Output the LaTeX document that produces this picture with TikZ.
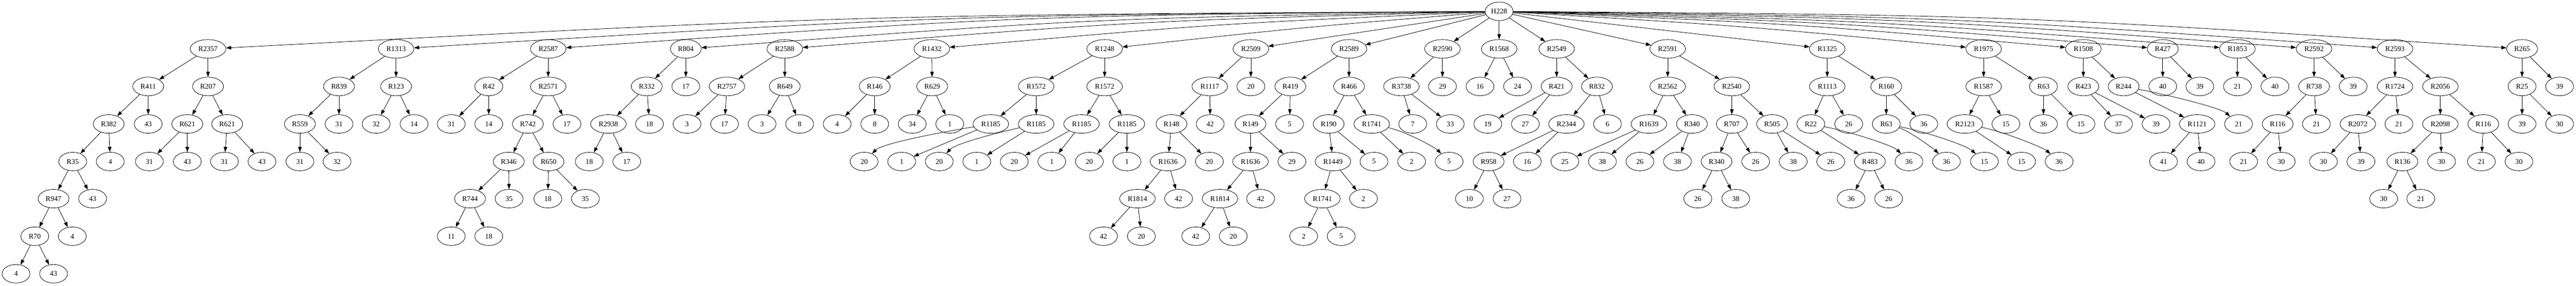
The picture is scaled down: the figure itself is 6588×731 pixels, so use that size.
\documentclass[tikz,border=0pt]{standalone}
\usepackage{fontspec}
\setmainfont{Liberation Serif}
\usetikzlibrary{shapes.geometric,arrows.meta}
\tikzset{
  nd/.style={ellipse,draw,line width=0.8pt,inner sep=0pt,minimum height=35.6pt,minimum width=53.5pt,font=\fontsize{13.9}{16}\selectfont},
  wa/.style={nd,minimum width=59.3pt},
  wb/.style={nd,minimum width=68.3pt},
  ed/.style={-{Triangle[length=9.9pt,width=6.9pt]},line width=0.8pt}
}
\begin{document}
\begin{tikzpicture}[x=0.75pt,y=-0.75pt]
\useasboundingbox (0,0) rectangle (6588,731);
\node[nd] (r) at (3834,29) {H228};
% A
\node[wb] (A0) at (532,125) {R2357};
\node[wa] (A1) at (379,221) {R411};
\node[wa] (A2) at (532,221) {R207};
\node[wa] (A3) at (278,317) {R382};
\node[nd] (A4) at (379,317) {43};
\node[wa] (A5) at (479,317) {R621};
\node[wa] (A6) at (581,317) {R621};
\node[nd] (A7) at (186,413) {R35};
\node[nd] (A8) at (282,413) {4};
\node[nd] (A9) at (382,413) {31};
\node[nd] (A10) at (479,413) {43};
\node[nd] (A11) at (574,413) {31};
\node[nd] (A12) at (670,413) {43};
\node[wa] (A13) at (137,508) {R947};
\node[nd] (A14) at (237,508) {43};
\node[nd] (A15) at (89,604) {R70};
\node[nd] (A16) at (185,604) {4};
\node[nd] (A17) at (41,700) {4};
\node[nd] (A18) at (137,700) {43};
% B
\node[wb] (B0) at (1013,125) {R1313};
\node[wa] (B1) at (867,221) {R839};
\node[wa] (B2) at (1013,221) {R123};
\node[wa] (B3) at (767,317) {R559};
\node[nd] (B4) at (867,317) {31};
\node[nd] (B5) at (962,317) {32};
\node[nd] (B6) at (1059,317) {14};
\node[nd] (B7) at (767,413) {31};
\node[nd] (B8) at (862,413) {32};
% C
\node[wb] (C0) at (1402,125) {R2587};
\node[nd] (C1) at (1250,221) {R42};
\node[wb] (C2) at (1402,221) {R2571};
\node[nd] (C3) at (1154,317) {31};
\node[nd] (C4) at (1250,317) {14};
\node[wa] (C5) at (1350,317) {R742};
\node[nd] (C6) at (1450,317) {17};
\node[wa] (C7) at (1301,413) {R346};
\node[wa] (C8) at (1403,413) {R650};
\node[wa] (C9) at (1202,508) {R744};
\node[nd] (C10) at (1302,508) {35};
\node[nd] (C11) at (1401,508) {18};
\node[nd] (C12) at (1497,508) {35};
\node[nd] (C13) at (1154,604) {11};
\node[nd] (C14) at (1250,604) {18};
% D
\node[wa] (D0) at (1754,125) {R804};
\node[wa] (D1) at (1654,221) {R332};
\node[nd] (D2) at (1754,221) {17};
\node[wb] (D3) at (1556,317) {R2938};
\node[nd] (D4) at (1661,317) {18};
\node[nd] (D5) at (1507,413) {18};
\node[nd] (D6) at (1603,413) {17};
% E
\node[wb] (E0) at (2007,125) {R2588};
\node[wb] (E1) at (1859,221) {R2757};
\node[wa] (E2) at (2007,221) {R649};
\node[nd] (E3) at (1757,317) {3};
\node[nd] (E4) at (1853,317) {17};
\node[nd] (E5) at (1949,317) {3};
\node[nd] (E6) at (2045,317) {8};
% F
\node[wb] (F0) at (2383,125) {R1432};
\node[wa] (F1) at (2237,221) {R146};
\node[wa] (F2) at (2384,221) {R629};
\node[nd] (F3) at (2141,317) {4};
\node[nd] (F4) at (2237,317) {8};
\node[nd] (F5) at (2333,317) {34};
\node[nd] (F6) at (2429,317) {1};
% G
\node[wb] (G0) at (2825,125) {R1248};
\node[wb] (G1) at (2650,221) {R1572};
\node[wb] (G2) at (2825,221) {R1572};
\node[wb] (G3) at (2534,317) {R1185};
\node[wb] (G4) at (2650,317) {R1185};
\node[wb] (G5) at (2766,317) {R1185};
\node[wb] (G6) at (2882,317) {R1185};
\node[nd] (G7) at (2210,413) {20};
\node[nd] (G8) at (2306,413) {1};
\node[nd] (G9) at (2402,413) {20};
\node[nd] (G10) at (2498,413) {1};
\node[nd] (G11) at (2594,413) {20};
\node[nd] (G12) at (2690,413) {1};
\node[nd] (G13) at (2786,413) {20};
\node[nd] (G14) at (2882,413) {1};
% H
\node[wb] (H0) at (3199,125) {R2509};
\node[wb] (H1) at (3094,221) {R1117};
\node[nd] (H2) at (3199,221) {20};
\node[wa] (H3) at (2996,317) {R148};
\node[nd] (H4) at (3095,317) {42};
\node[wb] (H5) at (2987,413) {R1636};
\node[nd] (H6) at (3093,413) {20};
\node[wb] (H7) at (2909,508) {R1814};
\node[nd] (H8) at (3014,508) {42};
\node[nd] (H9) at (2822,604) {42};
\node[nd] (H10) at (2919,604) {20};
% I
\node[wb] (I0) at (3450,125) {R2589};
\node[wa] (I1) at (3300,221) {R419};
\node[wa] (I2) at (3450,221) {R466};
\node[wa] (I3) at (3198,317) {R149};
\node[nd] (I4) at (3298,317) {5};
\node[wb] (I5) at (3198,413) {R1636};
\node[nd] (I6) at (3304,413) {29};
\node[wb] (I7) at (3120,508) {R1814};
\node[nd] (I8) at (3224,508) {42};
\node[nd] (I9) at (3058,604) {42};
\node[nd] (I10) at (3154,604) {20};
\node[wa] (I11) at (3398,317) {R190};
\node[wb] (I12) at (3508,317) {R1741};
\node[wb] (I13) at (3409,413) {R1449};
\node[nd] (I14) at (3514,413) {5};
\node[wb] (I15) at (3382,508) {R1741};
\node[nd] (I16) at (3487,508) {2};
\node[nd] (I17) at (3334,604) {2};
\node[nd] (I18) at (3430,604) {5};
\node[nd] (I19) at (3610,413) {2};
\node[nd] (I20) at (3706,413) {5};
% J
\node[wb] (J0) at (3689,125) {R2590};
\node[wb] (J1) at (3584,221) {R3738};
\node[nd] (J2) at (3689,221) {29};
\node[nd] (J3) at (3613,317) {7};
\node[nd] (J4) at (3709,317) {33};
% K
\node[wb] (K0) at (3834,125) {R1568};
\node[nd] (K1) at (3785,221) {16};
\node[nd] (K2) at (3881,221) {24};
% Q
\node[wb] (Q0) at (3981,125) {R2549};
\node[wa] (Q1) at (3981,221) {R421};
\node[wa] (Q2) at (4084,221) {R832};
\node[nd] (Q3) at (3805,317) {19};
\node[nd] (Q4) at (3901,317) {27};
\node[wb] (Q5) at (4006,317) {R2344};
\node[nd] (Q6) at (4111,317) {6};
\node[wa] (Q7) at (3807,413) {R958};
\node[nd] (Q8) at (3906,413) {16};
\node[nd] (Q9) at (3758,508) {10};
\node[nd] (Q10) at (3854,508) {27};
% M
\node[wb] (M0) at (4265,125) {R2591};
\node[wb] (M1) at (4265,221) {R2562};
\node[wb] (M2) at (4429,221) {R2540};
\node[wb] (M3) at (4217,317) {R1639};
\node[wa] (M4) at (4327,317) {R340};
\node[nd] (M5) at (4002,413) {25};
\node[nd] (M6) at (4098,413) {38};
\node[nd] (M7) at (4194,413) {26};
\node[nd] (M8) at (4290,413) {38};
\node[wa] (M9) at (4429,317) {R707};
\node[wa] (M10) at (4532,317) {R505};
\node[wa] (M11) at (4390,413) {R340};
\node[nd] (M12) at (4490,413) {26};
\node[nd] (M13) at (4342,508) {26};
\node[nd] (M14) at (4439,508) {38};
\node[nd] (M15) at (4586,413) {38};
\node[nd] (M16) at (4682,413) {26};
% N
\node[wb] (N0) at (4673,125) {R1325};
\node[wb] (N1) at (4673,221) {R1113};
\node[wa] (N2) at (4824,221) {R160};
\node[nd] (N3) at (4631,317) {R22};
\node[nd] (N4) at (4728,317) {26};
\node[wa] (N5) at (4782,413) {R483};
\node[nd] (N6) at (4882,413) {36};
\node[nd] (N7) at (4734,508) {36};
\node[nd] (N8) at (4830,508) {26};
\node[nd] (N9) at (4824,317) {R63};
\node[nd] (N10) at (4920,317) {36};
\node[nd] (N11) at (4978,413) {36};
\node[nd] (N12) at (5075,413) {15};
% O
\node[wb] (O0) at (5073,125) {R1975};
\node[wb] (O1) at (5073,221) {R1587};
\node[nd] (O2) at (5226,221) {R63};
\node[wb] (O3) at (5025,317) {R2123};
\node[nd] (O4) at (5130,317) {15};
\node[nd] (O5) at (5170,413) {15};
\node[nd] (O6) at (5266,413) {36};
\node[nd] (O7) at (5226,317) {36};
\node[nd] (O8) at (5322,317) {15};
% P
\node[wb] (P0) at (5328,125) {R1508};
\node[wa] (P1) at (5328,221) {R423};
\node[wa] (P2) at (5431,221) {R244};
\node[nd] (P3) at (5418,317) {37};
\node[nd] (P4) at (5514,317) {39};
\node[wb] (P5) at (5619,317) {R1121};
\node[nd] (P6) at (5725,317) {21};
\node[nd] (P7) at (5533,413) {41};
\node[nd] (P8) at (5629,413) {40};
% S
\node[wa] (S0) at (5531,125) {R427};
\node[nd] (S1) at (5531,221) {40};
\node[nd] (S2) at (5626,221) {39};
% T
\node[wb] (T0) at (5722,125) {R1853};
\node[nd] (T1) at (5722,221) {21};
\node[nd] (T2) at (5818,221) {40};
% U
\node[wb] (U0) at (5918,125) {R2592};
\node[wa] (U1) at (5918,221) {R738};
\node[nd] (U2) at (6018,221) {39};
\node[wa] (U3) at (5825,317) {R116};
\node[nd] (U4) at (5924,317) {21};
\node[nd] (U5) at (5738,413) {21};
\node[nd] (U6) at (5834,413) {30};
% V
\node[wb] (V0) at (6125,125) {R2593};
\node[wb] (V1) at (6125,221) {R1724};
\node[wb] (V2) at (6241,221) {R2056};
\node[wb] (V3) at (6030,317) {R2072};
\node[nd] (V4) at (6135,317) {21};
\node[nd] (V5) at (5942,413) {30};
\node[nd] (V6) at (6038,413) {39};
\node[wb] (V7) at (6241,317) {R2098};
\node[wa] (V8) at (6351,317) {R116};
\node[wa] (V9) at (6144,413) {R136};
\node[nd] (V10) at (6244,413) {30};
\node[nd] (V11) at (6096,508) {30};
\node[nd] (V12) at (6191,508) {21};
\node[nd] (V13) at (6346,413) {21};
\node[nd] (V14) at (6442,413) {30};
% W
\node[wa] (W0) at (6450,125) {R265};
\node[nd] (W1) at (6450,221) {R25};
\node[nd] (W2) at (6546,221) {39};
\node[nd] (W3) at (6450,317) {39};
\node[nd] (W4) at (6546,317) {30};
% control points of the long root edges
\coordinate (cA) at (2183,39);
\coordinate (cB) at (2424,39);
\coordinate (cC) at (2618,40);
\coordinate (cD) at (2794,47);
\coordinate (cE) at (2920,53);
\coordinate (cF) at (3108,61);
\coordinate (cG) at (3330,70);
\coordinate (cO) at (4454,66);
\coordinate (cP) at (4581,60);
\coordinate (cS) at (4682,56);
\coordinate (cT) at (4778,52);
\coordinate (cU) at (4876,47);
\coordinate (cV) at (4980,43);
\coordinate (cW) at (5142,39);
\foreach \c in {A,B,C,D,E,F,G,O,P,S,T,U,V,W}
  \draw[ed] (r) .. controls (c\c) .. (\c0);
% curved inner edges
\draw[ed] (G3) .. controls +(-150,25) and +(45,-45) .. (G7);
\draw[ed] (G4) .. controls +(-110,25) and +(40,-45) .. (G9);
\draw[ed] (N3) .. controls +(110,22) and +(-40,-40) .. (N6);
\draw[ed] (N9) .. controls +(60,18) and +(-30,-30) .. (N11);
\draw[ed] (N9) .. controls +(110,22) and +(-45,-40) .. (N12);
\draw[ed] (P2) .. controls +(130,25) and +(-45,-40) .. (P6);
\draw[ed] (O3) .. controls +(100,20) and +(-40,-35) .. (O6);
\draw[ed] (I12) .. controls +(90,20) and +(-35,-35) .. (I20);
% straight edges
\foreach \p/\c in {r/H0,r/I0,r/J0,r/K0,r/Q0,r/M0,r/N0,
  A0/A1,A0/A2,A1/A3,A1/A4,A2/A5,A2/A6,A3/A7,A3/A8,A5/A9,A5/A10,A6/A11,A6/A12,A7/A13,A7/A14,A13/A15,A13/A16,A15/A17,A15/A18,
  B0/B1,B0/B2,B1/B3,B1/B4,B2/B5,B2/B6,B3/B7,B3/B8,
  C0/C1,C0/C2,C1/C3,C1/C4,C2/C5,C2/C6,C5/C7,C5/C8,C7/C9,C7/C10,C8/C11,C8/C12,C9/C13,C9/C14,
  D0/D1,D0/D2,D1/D3,D1/D4,D3/D5,D3/D6,
  E0/E1,E0/E2,E1/E3,E1/E4,E2/E5,E2/E6,
  F0/F1,F0/F2,F1/F3,F1/F4,F2/F5,F2/F6,
  G0/G1,G0/G2,G1/G3,G1/G4,G2/G5,G2/G6,G3/G8,G4/G10,G5/G11,G5/G12,G6/G13,G6/G14,
  H0/H1,H0/H2,H1/H3,H1/H4,H3/H5,H3/H6,H5/H7,H5/H8,H7/H9,H7/H10,
  I0/I1,I0/I2,I1/I3,I1/I4,I3/I5,I3/I6,I5/I7,I5/I8,I7/I9,I7/I10,I2/I11,I2/I12,I11/I13,I11/I14,I13/I15,I13/I16,I15/I17,I15/I18,I12/I19,
  J0/J1,J0/J2,J1/J3,J1/J4,
  K0/K1,K0/K2,
  Q0/Q1,Q0/Q2,Q1/Q3,Q1/Q4,Q2/Q5,Q2/Q6,Q5/Q7,Q5/Q8,Q7/Q9,Q7/Q10,
  M0/M1,M0/M2,M1/M3,M1/M4,M3/M5,M3/M6,M4/M7,M4/M8,M2/M9,M2/M10,M9/M11,M9/M12,M11/M13,M11/M14,M10/M15,M10/M16,
  N0/N1,N0/N2,N1/N3,N1/N4,N3/N5,N5/N7,N5/N8,N2/N9,N2/N10,
  O0/O1,O0/O2,O1/O3,O1/O4,O3/O5,O2/O7,O2/O8,
  P0/P1,P0/P2,P1/P3,P1/P4,P2/P5,P5/P7,P5/P8,
  S0/S1,S0/S2,T0/T1,T0/T2,
  U0/U1,U0/U2,U1/U3,U1/U4,U3/U5,U3/U6,
  V0/V1,V0/V2,V1/V3,V1/V4,V3/V5,V3/V6,V2/V7,V2/V8,V7/V9,V7/V10,V9/V11,V9/V12,V8/V13,V8/V14,
  W0/W1,W0/W2,W1/W3,W1/W4}
  \draw[ed] (\p) -- (\c);
\end{tikzpicture}
\end{document}
